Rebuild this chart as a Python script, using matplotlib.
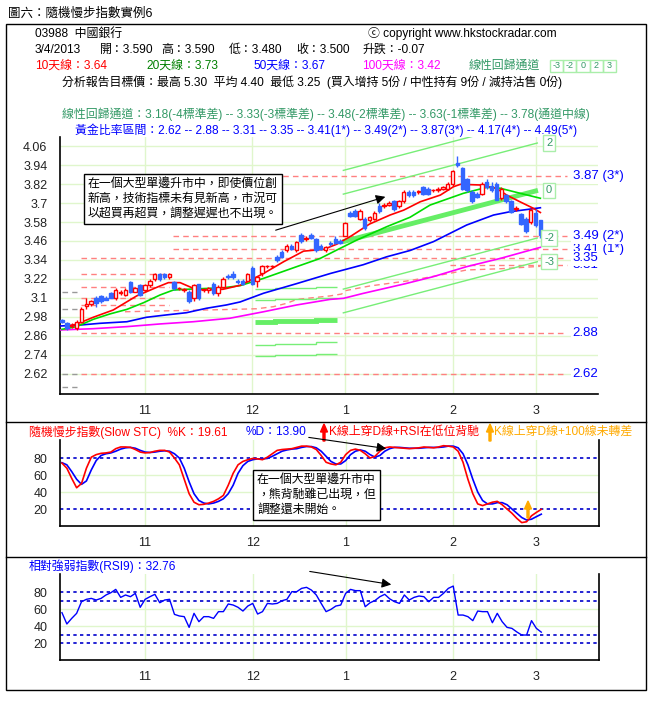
import matplotlib
matplotlib.use("Agg")
import matplotlib.pyplot as plt
import matplotlib.transforms as mtransforms
from matplotlib.patches import Rectangle, FancyArrow, FancyArrowPatch
from matplotlib.lines import Line2D

plt.rcParams['font.family'] = ['Liberation Sans', 'Noto Sans CJK TC', 'DejaVu Sans']

W, H = 654, 711

# ---------------- data ----------------
month_ticks = [17, 39, 58, 80, 97]
month_labels = ['11', '12', '1', '2', '3']
price_ticks = [4.06, 3.94, 3.82, 3.7, 3.58, 3.46, 3.34, 3.22, 3.1, 2.98, 2.86, 2.74, 2.62]

opens = [2.96, 2.94, 2.92, 2.91, 2.95, 3.05, 3.06, 3.10, 3.11, 3.10,
         3.13, 3.10, 3.13, 3.12, 3.20, 3.14, 3.18, 3.15, 3.18, 3.22,
         3.25, 3.25, 3.23, 3.20, 3.16, 3.15, 3.14, 3.10, 3.19, 3.15,
         3.15, 3.19, 3.13, 3.17, 3.24, 3.25, 3.21, 3.21, 3.21, 3.29,
         3.21, 3.26, 3.30, 3.30, 3.36, 3.39, 3.40, 3.43, 3.40, 3.50,
         3.47, 3.50, 3.47, 3.43, 3.40, 3.45, 3.47, 3.46, 3.49, 3.64,
         3.65, 3.60, 3.60, 3.59, 3.60, 3.68, 3.68, 3.69, 3.71, 3.68,
         3.71, 3.77, 3.77, 3.77, 3.80, 3.79, 3.78, 3.78, 3.79, 3.79,
         3.82, 3.95, 3.92, 3.85, 3.77, 3.76, 3.755, 3.83, 3.81, 3.82,
         3.73, 3.75, 3.71, 3.66, 3.63, 3.60, 3.58, 3.64, 3.59]
highs = [2.97, 2.95, 2.94, 2.96, 3.04, 3.10, 3.09, 3.11, 3.12, 3.11,
         3.14, 3.16, 3.15, 3.16, 3.21, 3.17, 3.19, 3.19, 3.22, 3.26,
         3.26, 3.26, 3.26, 3.21, 3.17, 3.16, 3.15, 3.19, 3.19, 3.16,
         3.17, 3.20, 3.18, 3.23, 3.25, 3.27, 3.22, 3.22, 3.26, 3.30,
         3.24, 3.31, 3.31, 3.31, 3.37, 3.40, 3.44, 3.44, 3.46, 3.51,
         3.49, 3.51, 3.48, 3.44, 3.43, 3.46, 3.49, 3.47, 3.58, 3.65,
         3.66, 3.66, 3.61, 3.62, 3.65, 3.70, 3.70, 3.71, 3.72, 3.72,
         3.78, 3.78, 3.78, 3.78, 3.81, 3.80, 3.79, 3.80, 3.81, 3.83,
         3.91, 4.00, 3.93, 3.86, 3.78, 3.77, 3.83, 3.85, 3.83, 3.83,
         3.80, 3.76, 3.72, 3.68, 3.64, 3.61, 3.67, 3.66, 3.59]
lows = [2.94, 2.90, 2.91, 2.90, 2.94, 3.03, 3.05, 3.04, 3.07, 3.09,
        3.10, 3.09, 3.12, 3.11, 3.13, 3.14, 3.11, 3.14, 3.17, 3.21,
        3.21, 3.22, 3.22, 3.15, 3.15, 3.14, 3.07, 3.08, 3.09, 3.14,
        3.13, 3.12, 3.11, 3.16, 3.22, 3.22, 3.19, 3.18, 3.20, 3.18,
        3.17, 3.24, 3.29, 3.29, 3.33, 3.35, 3.39, 3.40, 3.39, 3.45,
        3.46, 3.47, 3.39, 3.40, 3.39, 3.43, 3.44, 3.44, 3.49, 3.61,
        3.61, 3.59, 3.53, 3.58, 3.59, 3.64, 3.67, 3.68, 3.65, 3.67,
        3.70, 3.74, 3.74, 3.76, 3.75, 3.75, 3.77, 3.77, 3.78, 3.78,
        3.81, 3.93, 3.78, 3.77, 3.70, 3.73, 3.75, 3.79, 3.77, 3.72,
        3.72, 3.70, 3.64, 3.65, 3.56, 3.51, 3.57, 3.55, 3.48]
closes = [2.95, 2.91, 2.93, 2.95, 3.03, 3.06, 3.08, 3.07, 3.08, 3.09,
          3.10, 3.15, 3.14, 3.15, 3.14, 3.16, 3.12, 3.18, 3.21, 3.25,
          3.22, 3.23, 3.25, 3.16, 3.165, 3.155, 3.08, 3.18, 3.10, 3.155,
          3.16, 3.13, 3.17, 3.22, 3.23, 3.23, 3.20, 3.19, 3.25, 3.19,
          3.23, 3.30, 3.305, 3.305, 3.34, 3.36, 3.43, 3.41, 3.455, 3.46,
          3.48, 3.48, 3.40, 3.41, 3.42, 3.44, 3.45, 3.45, 3.575, 3.615,
          3.62, 3.65, 3.54, 3.61, 3.64, 3.65, 3.69, 3.70, 3.66, 3.71,
          3.77, 3.75, 3.75, 3.775, 3.76, 3.755, 3.785, 3.79, 3.80, 3.82,
          3.90, 3.94, 3.79, 3.78, 3.71, 3.74, 3.82, 3.80, 3.78, 3.72,
          3.79, 3.71, 3.645, 3.67, 3.565, 3.52, 3.655, 3.56, 3.50]

# moving averages, read as vertices (bar index, value)
ma10_x = [1, 3, 6.4, 10.5, 15.3, 19.4, 21.8, 24.2, 26.9, 29, 33, 36.5, 41.3, 45.4,
          49.5, 53.6, 56.3, 59, 63, 67.2, 70, 73.4, 77.5, 80.2, 81.6, 85.6, 89,
          91.1, 93.8, 96.6, 98]
ma10_v = [2.92, 2.935, 2.978, 3.024, 3.113, 3.167, 3.197, 3.197, 3.161, 3.15, 3.155,
          3.18, 3.255, 3.329, 3.396, 3.407, 3.44, 3.487, 3.567, 3.624, 3.655, 3.708,
          3.75, 3.803, 3.818, 3.814, 3.793, 3.75, 3.708, 3.666, 3.64]
ma20_x = [0, 3, 6.4, 9.8, 13.3, 16.7, 20.1, 22.8, 25.5, 30.3, 33.7, 36.5, 41.3, 48,
          52.9, 56.3, 60.4, 66.5, 71.3, 75.4, 82.2, 87, 89.8, 93.9, 98]
ma20_v = [2.902, 2.919, 2.965, 2.999, 3.028, 3.07, 3.119, 3.15, 3.155, 3.161, 3.167,
          3.178, 3.224, 3.297, 3.35, 3.403, 3.466, 3.55, 3.61, 3.687, 3.761, 3.799,
          3.793, 3.761, 3.73]
ma50_x = [-0.4, 3.7, 7.8, 13.3, 17.3, 21.4, 25.5, 29.6, 33.7, 36.5, 41.3, 48, 55,
          61.7, 66.5, 71.3, 76.1, 82.9, 88.4, 91.8, 98]
ma50_v = [2.923, 2.929, 2.94, 2.95, 2.978, 2.993, 3.007, 3.035, 3.056, 3.075, 3.13,
          3.19, 3.255, 3.31, 3.36, 3.40, 3.456, 3.561, 3.624, 3.645, 3.67]
ma100_x = [-0.4, 6.4, 13.3, 20.1, 26.9, 34.4, 41.3, 48.1, 54.9, 57.7, 61.7, 70.3,
           76.1, 82.9, 89.8, 98]
ma100_v = [2.898, 2.906, 2.919, 2.936, 2.95, 2.972, 3.013, 3.056, 3.091, 3.098, 3.129,
           3.19, 3.235, 3.298, 3.35, 3.42]
ma250_x = [12.9, 23.2, 35.1, 39.9, 43.3, 46, 48.1, 54.9, 57.3, 58, 63.1, 71.3, 79.5,
           82.9, 90, 98]
ma250_v = [3.013, 3.02, 3.028, 3.032, 3.045, 3.066, 3.091, 3.113, 3.125, 3.146, 3.176,
           3.21, 3.256, 3.277, 3.285, 3.30]

# linear regression channel (+3, +2, centre, -2, -3)
chan_x = [57.5, 97.5]
chan_start = [3.905, 3.755, 3.455, 3.155, 3.005]
chan_end = [4.23, 4.08, 3.78, 3.48, 3.33]
chan_labels = ['2', '0', '-2', '-3']
chan_label_v = [4.08, 3.78, 3.48, 3.33]

# earlier channel, drawn in steps
early_x = [39.5, 43.6, 52.0, 56.4]
early_chan = [[3.154, 3.160, 3.167],
              [3.086, 3.092, 3.099],
              [2.946, 2.952, 2.959],
              [2.806, 2.812, 2.819],
              [2.736, 2.742, 2.749]]

# golden ratio levels and other dashed levels: (value, from bar, to bar)
gold_lines = [(3.87, 43.2, 103.5), (3.49, 22.7, 103.5), (3.41, 22.7, 103.5),
              (3.35, 3.9, 103.5), (3.31, 79.5, 103.5), (2.88, 3.9, 102.7),
              (2.62, 3.9, 102.7), (3.25, 3.9, 21.9), (3.167, 3.9, 21.9),
              (3.098, 3.9, 21.6), (3.056, 3.9, 21.9)]
grey_lines = [3.136, 3.028, 2.62, 2.536]
# drawn in this order: later labels cover earlier ones, as in the original
gold_labels = [(3.31, '3.31'), (3.41, '3.41 (1*)'), (3.87, '3.87 (3*)'),
               (3.49, '3.49 (2*)'), (3.35, '3.35'), (2.88, '2.88'), (2.62, '2.62')]

stoch_k = [74, 68, 56, 45, 50, 68, 81, 84, 85.5, 86, 87, 91, 93, 93, 92.5, 90, 87, 86,
           86.5, 88, 89, 89, 87, 80, 72, 55, 38, 28, 25, 25.5, 27, 29, 32, 36, 48, 62,
           72, 76, 78, 79.5, 79, 78, 81, 85, 89, 90, 90.5, 91, 92.5, 94, 94, 93, 90, 83,
           75, 73, 72, 75, 84, 89, 90.5, 89, 85, 80, 82, 88, 92, 93, 92.5, 92, 91.5, 91,
           91.5, 92, 93, 92.5, 92, 93, 94.5, 94, 93, 88, 75, 55, 38, 26, 24, 26, 28, 29,
           25, 20, 15, 9, 4, 5, 12, 16, 19.61]
stoch_d = [74.5, 72, 64, 55, 49, 53, 66, 77, 83, 85, 86, 88, 90.5, 92, 92.5, 91.5, 89,
           87, 86.5, 87, 88, 88.5, 88, 85, 80, 68, 52, 38, 30, 27, 26, 27, 29, 32, 38,
           48, 62, 71, 76, 78, 79, 79, 79.5, 82, 85, 88, 89.5, 90.5, 91, 92.5, 93.5,
           93.5, 92, 88, 82, 76, 73, 73, 77, 84, 88, 89.5, 88, 84, 81, 83, 88, 91, 92.5,
           92.5, 92, 91.5, 91.5, 91.5, 92, 92.5, 92.5, 92.5, 93, 94, 94, 92, 85, 72, 55,
           40, 30, 26, 26, 27.5, 27.5, 25, 20, 15, 10, 7, 8, 11, 13.90]
rsi9 = [55.7, 42.4, 49.0, 54.9, 68.6, 71.4, 72.5, 70.6, 72.5, 76.5, 79.2, 83.1, 73.7,
        76.5, 74.5, 78.4, 62.0, 71.4, 74.5, 77.3, 67.4, 70.6, 71.4, 53.7, 51.8, 51.0,
        38.4, 54.9, 45.1, 51.0, 51.0, 49.0, 56.9, 56.9, 65.9, 64.7, 62.0, 57.6, 63.5,
        66.6, 54.1, 56.9, 66.6, 65.9, 66.6, 69.8, 71.4, 80.4, 80.4, 84.3, 85.5, 82.3,
        76.5, 66.6, 56.9, 59.6, 63.5, 64.7, 78.4, 83.1, 81.6, 81.6, 62.7, 67.4, 70.0,
        74.5, 77.3, 72.0, 68.6, 66.6, 76.5, 70.6, 73.7, 75.3, 74.5, 68.6, 73.7, 73.7,
        78.4, 84.3, 87.0, 52.9, 52.9, 51.0, 46.3, 57.6, 56.9, 56.9, 43.9, 54.9, 45.1,
        38.4, 37.2, 33.0, 29.4, 29.4, 46.3, 37.2, 32.76]

RED = '#ff0000'
BLUE = '#0000ff'
CBLUE = '#3366ff'
GREEN = '#00dd00'
MAG = '#ff00ff'
SEA = '#339966'
ORANGE = '#ffaa00'
GRID = '#e0f6cc'
SALMON = '#ff8080'
CHAN = '#77ee77'

fig = plt.figure(figsize=(W / 100, H / 100), dpi=100)
pix = mtransforms.Affine2D().scale(1 / W, -1 / H).translate(0, 1) + fig.transFigure


def fx(x):
    return x / W


def fy(y):
    return 1 - y / H


def ptext(x, y, s, color='black', size=8.6, **kw):
    fig.text(fx(x), fy(y), s, color=color, fontsize=size, va='center', ha='left', **kw)


# ---------------- frame and header ----------------
fig.add_artist(Rectangle((fx(6), fy(690)), fx(646) - fx(6), fy(24) - fy(690),
                         transform=fig.transFigure, fill=False, ec='black', lw=1))
for yy in [422, 557]:
    fig.add_artist(Line2D([fx(6), fx(646)], [fy(yy), fy(yy)], color='black', lw=1))

ptext(8, 14, '圖六：隨機慢步指數實例6', size=9)
ptext(35, 34, '03988  中國銀行')
ptext(368, 34, 'ⓒ copyright www.hkstockradar.com')
ptext(35, 50, '3/4/2013')
ptext(100, 50, '開：3.590')
ptext(161, 50, '高：3.590')
ptext(229, 50, '低：3.480')
ptext(296, 50, '收：3.500')
ptext(362, 50, '升跌：-0.07')
ptext(35, 66, '10天線：3.64', RED)
ptext(146, 66, '20天線：3.73', '#008000')
ptext(254, 66, '50天線：3.67', BLUE)
ptext(362, 66, '100天線：3.42', MAG)
ptext(469, 66, '線性回歸通道', SEA)
for k, lab in enumerate(['-3', '-2', '0', '2', '3']):
    x0 = 550 + k * 13.2
    fig.add_artist(Rectangle((fx(x0), fy(72)), 13.2 / W, 12 / H, transform=fig.transFigure,
                             fill=False, ec='#aaeeaa', lw=1))
    fig.text(fx(x0 + 6.6), fy(66), lab, color=SEA, fontsize=6.5, ha='center', va='center')
ptext(62, 82, '分析報告目標價：最高 5.30  平均 4.40  最低 3.25  (買入增持 5份 / 中性持有 9份 / 減持沽售 0份)')
ptext(62, 114, '線性回歸通道：3.18(-4標準差) -- 3.33(-3標準差) -- 3.48(-2標準差) -- 3.63(-1標準差) -- 3.78(通道中線)', SEA)
ptext(75, 130, '黃金比率區間：2.62 -- 2.88 -- 3.31 -- 3.35 -- 3.41(1*) -- 3.49(2*) -- 3.87(3*) -- 4.17(4*) -- 4.49(5*)', BLUE)

# ---------------- axes ----------------
ax = fig.add_axes([fx(60), fy(394), fx(598) - fx(60), fy(137) - fy(394)])
ax2 = fig.add_axes([fx(60), fy(526), fx(599) - fx(60), fy(440) - fy(526)])
ax3 = fig.add_axes([fx(60), fy(660), fx(599) - fx(60), fy(574) - fy(660)])

for a in (ax, ax2, ax3):
    a.set_xlim(-0.4, 109.8)
    a.set_xticks(month_ticks)
    a.set_xticklabels(month_labels)
    a.tick_params(length=0, labelsize=9, colors='#222222')
    a.tick_params(axis='x', pad=8)
    a.tick_params(axis='y', pad=9)
    a.spines['top'].set_visible(False)
    for s in a.spines.values():
        s.set_linewidth(1.2)
    for t in month_ticks:
        a.axvline(t, color=GRID, lw=1, zorder=0)
ax.spines['right'].set_visible(False)

# main price chart
ax.set_ylim(2.4934, 4.117)
ax.set_yticks(price_ticks)
ax.set_yticklabels(['%g' % v for v in price_ticks])
for v in price_ticks:
    ax.axhline(v, color=GRID, lw=1, zorder=0)

for lv, a0, a1 in gold_lines:
    ax.plot([a0, a1], [lv, lv], color=SALMON, lw=1, dashes=(4, 3), zorder=1, clip_on=False)
for lv in grey_lines:
    ax.plot([0, 3.1], [lv, lv], color='#999999', lw=1, dashes=(4, 3), zorder=1)

ax.plot(ma250_x, ma250_v, color=SALMON, lw=1, dashes=(4, 3), zorder=1)

for k in range(5):
    thick = (k == 2)
    ax.plot(chan_x, [chan_start[k], chan_end[k]], color='#66ee66' if thick else CHAN,
            lw=3.5 if thick else 1, zorder=2, solid_capstyle='butt')
    ax.stairs(early_chan[k], early_x, baseline=None, color='#66ee66' if thick else CHAN,
              lw=3.5 if thick else 1, zorder=2)

ax.plot(ma100_x, ma100_v, color=MAG, lw=1.2, zorder=3)
ax.plot(ma50_x, ma50_v, color=BLUE, lw=1.2, zorder=3)
ax.plot(ma20_x, ma20_v, color=GREEN, lw=1.2, zorder=3)
ax.plot(ma10_x, ma10_v, color=RED, lw=1.2, zorder=3)

for i in range(len(closes)):
    o, h, l, c = opens[i], highs[i], lows[i], closes[i]
    up = c >= o
    col = RED if up else CBLUE
    ax.vlines(i, l, h, color=col, lw=1, zorder=4)
    ax.add_patch(Rectangle((i - 0.36, min(o, c)), 0.72, max(abs(c - o), 0.003),
                           fc='white' if up else col, ec=col, lw=1, zorder=5))

for lab, v in zip(chan_labels, chan_label_v):
    ax.text(99.8, v, lab, color=SEA, fontsize=8, ha='center', va='center', zorder=6,
            bbox=dict(boxstyle='square,pad=0.25', fc='white', ec='#aaeeaa', lw=1))

for z, (v, lab) in enumerate(gold_labels):
    ax.text(104.6, v, lab, color=BLUE, fontsize=9.5, ha='left', va='center', zorder=7 + z,
            clip_on=False, bbox=dict(boxstyle='square,pad=0.12', fc='white', ec='none'))

fig.text(fx(88), fy(199), '在一個大型單邊升市中，即使價位創\n新高，技術指標未有見新高，市況可\n以超買再超買，調整遲遲也不出現。',
         fontsize=8.6, va='center', ha='left', linespacing=1.35,
         bbox=dict(boxstyle='square,pad=0.35', fc='white', ec='black', lw=1))
fig.add_artist(FancyArrowPatch((273, 231), (388, 196), transform=pix, arrowstyle='-|>',
                               mutation_scale=14, lw=0.8, color='black'))

# stochastic panel
ax2.set_ylim(0, 101.2)
ax2.set_yticks([20, 40, 60, 80])
for v in [40, 60]:
    ax2.axhline(v, color=GRID, lw=1, zorder=0)
for v in [20, 80]:
    ax2.axhline(v, color='#0000cc', lw=1.2, dashes=(2, 2), zorder=1)
ax2.plot(range(len(stoch_d)), stoch_d, color=BLUE, lw=1.2, zorder=3)
ax2.plot(range(len(stoch_k)), stoch_k, color=RED, lw=1.2, zorder=3)

ptext(29, 432, '隨機慢步指數(Slow STC)  %K：19.61', RED)
ptext(246, 432, '%D：13.90', BLUE)
ptext(329, 432, 'K線上穿D線+RSI在低位背馳', RED)
ptext(494, 432, 'K線上穿D線+100線未轉差', ORANGE)
fig.add_artist(FancyArrow(324, 441, 0, -17, width=2, head_width=7, head_length=8,
                          length_includes_head=True, color=RED, transform=pix))
fig.add_artist(FancyArrow(490, 441, 0, -17, width=2, head_width=7, head_length=8,
                          length_includes_head=True, color=ORANGE, transform=pix))
fig.add_artist(FancyArrow(528, 518, 0, -17, width=2, head_width=7, head_length=8,
                          length_includes_head=True, color=ORANGE, transform=pix))

fig.text(fx(257), fy(495), '在一個大型單邊升市中\n，熊背馳雖已出現，但\n調整還未開始。',
         fontsize=8.6, va='center', ha='left', linespacing=1.35,
         bbox=dict(boxstyle='square,pad=0.35', fc='white', ec='black', lw=1))
fig.add_artist(FancyArrowPatch((306, 437), (389, 449), transform=pix, arrowstyle='-|>',
                               mutation_scale=14, lw=0.8, color='black'))

# RSI panel
ax3.set_ylim(0, 101.2)
ax3.set_yticks([20, 40, 60, 80])
for v in [40, 60]:
    ax3.axhline(v, color=GRID, lw=1, zorder=0)
for v in [20, 30, 70, 80]:
    ax3.axhline(v, color='#0000cc', lw=1.2, dashes=(2, 2), zorder=1)
ax3.plot(range(len(rsi9)), rsi9, color=BLUE, lw=1, zorder=3)
ptext(29, 566, '相對強弱指數(RSI9)：32.76', BLUE)
fig.add_artist(FancyArrowPatch((307, 571), (394, 585), transform=pix, arrowstyle='-|>',
                               mutation_scale=14, lw=0.8, color='black'))

fig.savefig('out.png', dpi=100)
